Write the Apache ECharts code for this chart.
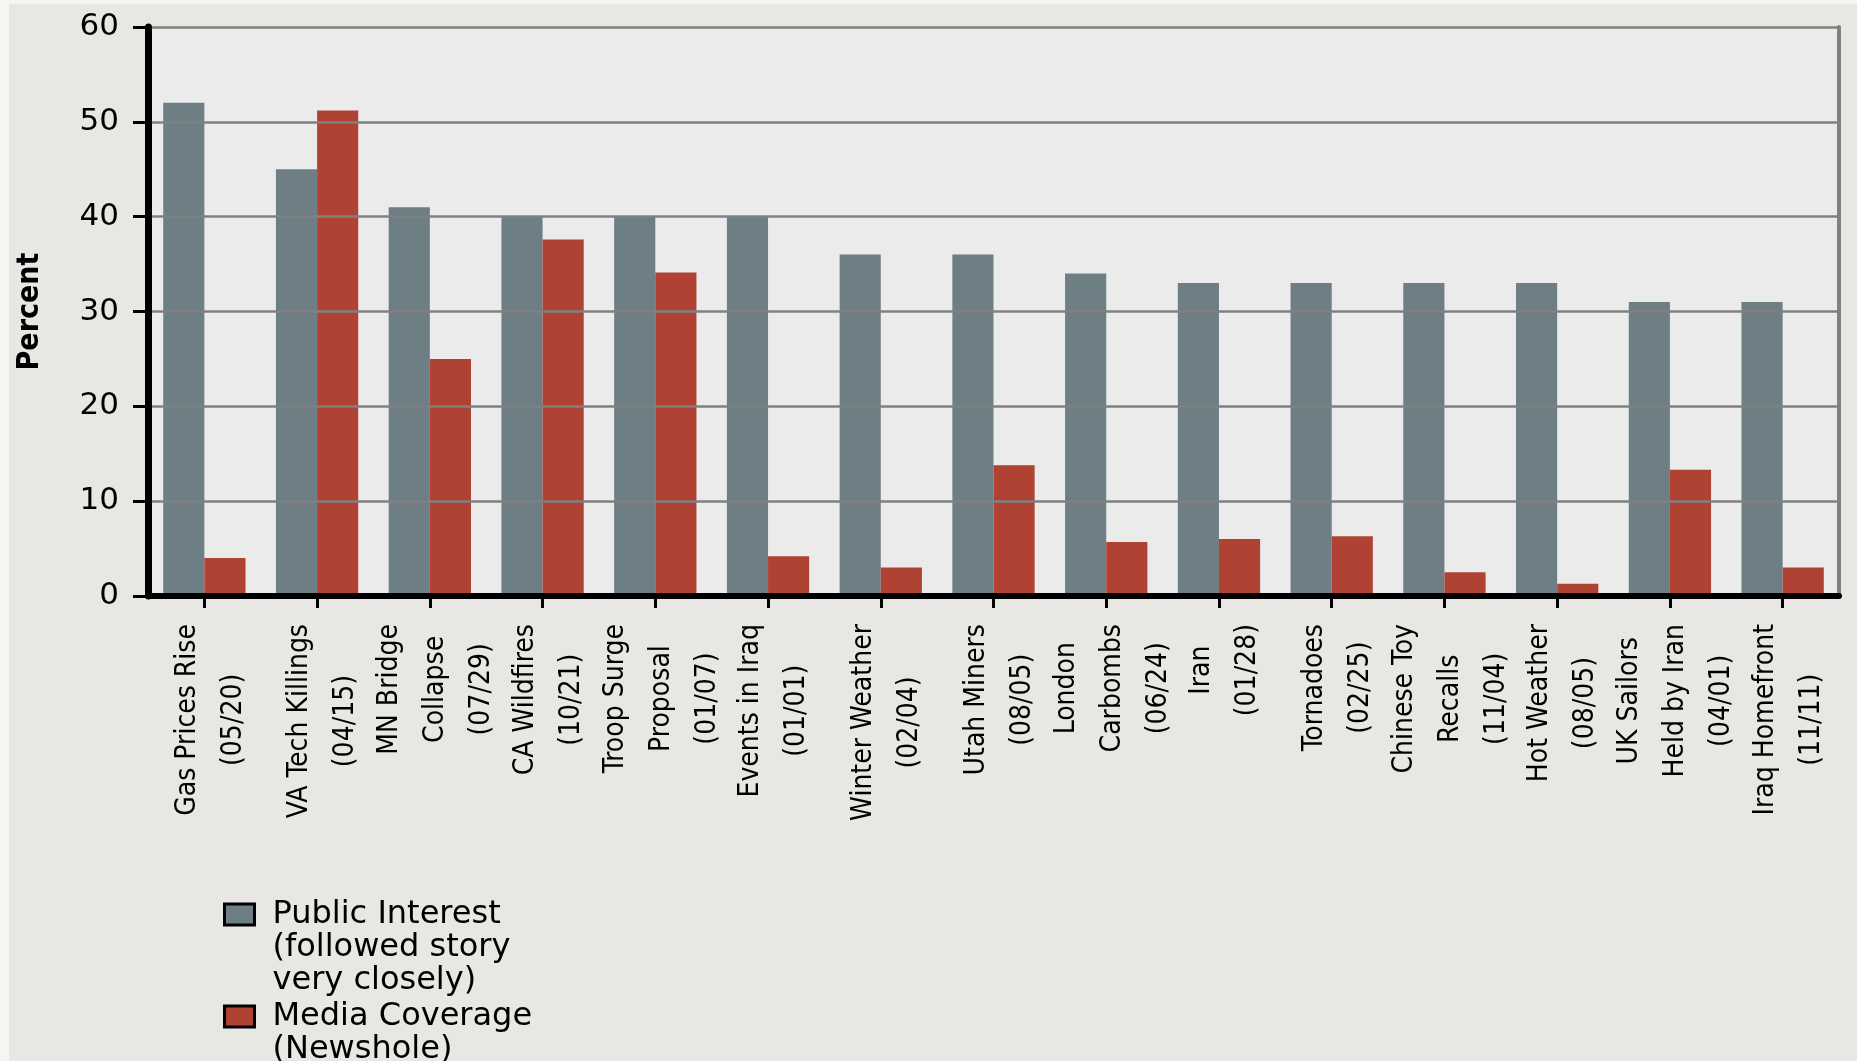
<!DOCTYPE html>
<html>
<head>
<meta charset="utf-8">
<title>Public Interest vs Media Coverage</title>
<script src="https://cdn.jsdelivr.net/npm/echarts@6/dist/echarts.min.js"></script>
<style>
  html, body { margin: 0; padding: 0; background: #f5f5f3; }
  #chart { position: absolute; left: 9px; top: 4px; width: 1848px; height: 1057px; }
</style>
</head>
<body>
<div id="chart"></div>
<script>
// Story labels (lines separated by \n)
const categories = [
  'Gas Prices Rise\n(05/20)',
  'VA Tech Killings\n(04/15)',
  'MN Bridge\nCollapse\n(07/29)',
  'CA Wildfires\n(10/21)',
  'Troop Surge\nProposal\n(01/07)',
  'Events in Iraq\n(01/01)',
  'Winter Weather\n(02/04)',
  'Utah Miners\n(08/05)',
  'London\nCarbombs\n(06/24)',
  'Iran\n(01/28)',
  'Tornadoes\n(02/25)',
  'Chinese Toy\nRecalls\n(11/04)',
  'Hot Weather\n(08/05)',
  'UK Sailors\nHeld by Iran\n(04/01)',
  'Iraq Homefront\n(11/11)'
];

// Percent who followed the story very closely
const publicInterest = [52, 45, 41, 40, 40, 40, 36, 36, 34, 33, 33, 33, 33, 31, 31];

// Percent of the newshole devoted to the story
const mediaCoverage = [4.0, 51.2, 25.0, 37.6, 34.1, 4.2, 3.0, 13.8, 5.7, 6.0, 6.3, 2.5, 1.3, 13.3, 3.0];

const seriesNames = [
  'Public Interest\n(followed story\nvery closely)',
  'Media Coverage\n(Newshole)'
];

const yMin = 0;
const yMax = 60;
const yStep = 10;

const colors = ['#6e7e85', '#b04234'];
const narrowFont = "'Liberation Sans Narrow', 'DejaVu Sans Condensed', 'Liberation Sans', sans-serif";
const wideFont = "'DejaVu Sans', 'Verdana', sans-serif";

// Legend text: pad with blank lines above so the first line sits level with the swatch
function legendLabel(name) {
  const lines = name.split('\n');
  const pad = new Array(lines.length - 1).fill('');
  return pad.concat(lines).join('\n');
}

const legendText = {
  fontFamily: wideFont,
  fontSize: 32,
  lineHeight: 33,
  color: '#000',
  padding: [0, 0, 0, 13]
};

function makeLegend(name, top) {
  return {
    data: [name],
    orient: 'vertical',
    left: 214,
    top: top,
    padding: 0,
    itemWidth: 30,
    itemHeight: 21,
    selectedMode: false,
    icon: 'rect',
    itemStyle: { borderColor: '#000', borderWidth: 3 },
    formatter: legendLabel,
    textStyle: legendText
  };
}

const chart = echarts.init(document.getElementById('chart'));

chart.setOption({
  backgroundColor: '#e8e7e3',
  animation: false,
  grid: {
    left: 139,
    right: 18,
    top: 23,
    bottom: 465,
    outerBoundsMode: 'none',
    containLabel: false,
    show: true,
    backgroundColor: '#ebebeb',
    borderWidth: 0
  },
  legend: [
    makeLegend(seriesNames[0], 828),
    makeLegend(seriesNames[1], 963)
  ],
  xAxis: {
    type: 'category',
    data: categories,
    z: 5,
    axisLine: { show: true, lineStyle: { color: '#000', width: 6 } },
    axisTick: { show: true, alignWithLabel: true, length: 12, lineStyle: { color: '#000', width: 3 } },
    axisLabel: {
      interval: 0,
      rotate: 90,
      margin: 28,
      padding: [12, 0, 0, 0],
      color: '#000',
      fontFamily: narrowFont,
      fontSize: 28,
      lineHeight: 46,
      formatter: function (value) {
        return value.split('\n').map(function (line) { return '{c|' + line + '}'; }).join('\n');
      },
      rich: {
        c: {
          align: 'center',
          fontFamily: narrowFont,
          fontSize: 28,
          lineHeight: 46,
          color: '#000'
        }
      }
    }
  },
  yAxis: [
    {
      type: 'value',
      min: yMin,
      max: yMax,
      interval: yStep,
      z: 5,
      name: 'Percent',
      nameLocation: 'middle',
      nameGap: 103,
      nameTextStyle: {
        fontFamily: narrowFont,
        fontWeight: 'bold',
        fontSize: 30,
        color: '#000'
      },
      axisLine: { show: true, lineStyle: { color: '#000', width: 7 } },
      axisTick: { show: true, length: 15, lineStyle: { color: '#000', width: 3 } },
      axisLabel: {
        margin: 29,
        color: '#000',
        fontFamily: wideFont,
        fontSize: 31
      },
      splitLine: { show: true, lineStyle: { color: '#808080', width: 2.5 } }
    },
    {
      type: 'value',
      position: 'right',
      min: yMin,
      max: yMax,
      interval: yStep,
      axisLine: { show: true, lineStyle: { color: '#808080', width: 4 } },
      axisTick: { show: false },
      axisLabel: { show: false },
      splitLine: { show: false }
    }
  ],
  series: [
    {
      name: seriesNames[0],
      type: 'bar',
      data: publicInterest,
      barGap: '0%',
      barCategoryGap: '27%',
      itemStyle: { color: colors[0] }
    },
    {
      name: seriesNames[1],
      type: 'bar',
      data: mediaCoverage,
      barGap: '0%',
      barCategoryGap: '27%',
      itemStyle: { color: colors[1] }
    }
  ]
});
</script>
</body>
</html>
